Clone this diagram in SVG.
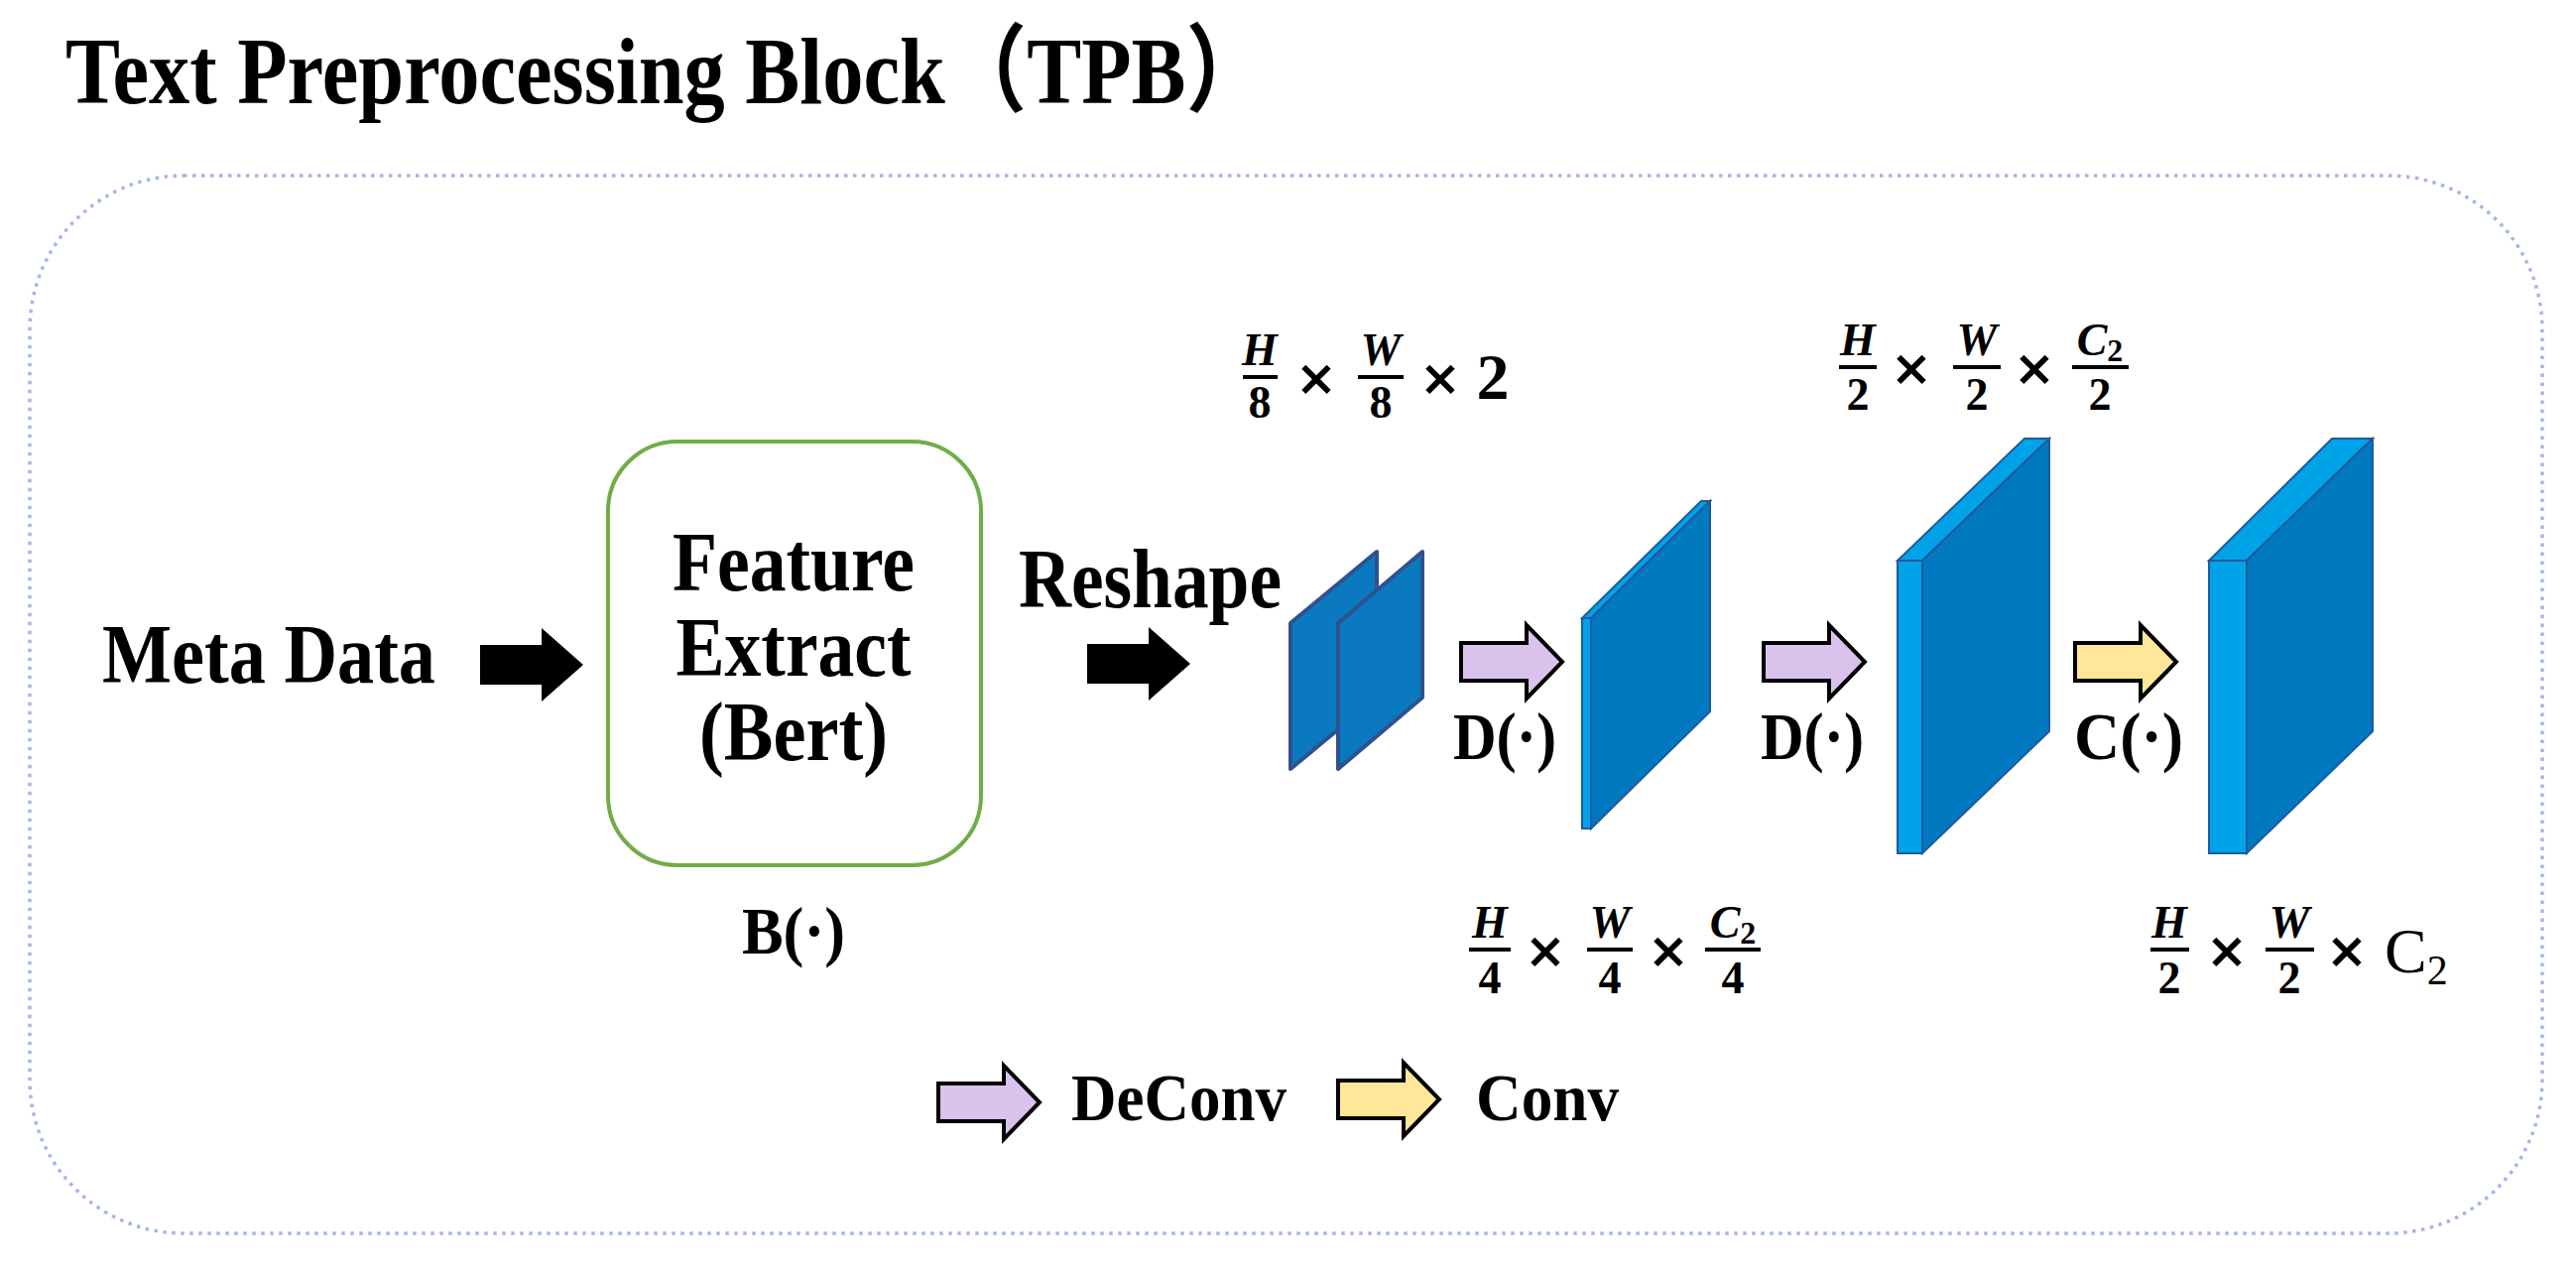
<svg xmlns="http://www.w3.org/2000/svg" xmlns:xlink="http://www.w3.org/1999/xlink" width="2597" height="1286" viewBox="0 0 2597 1286">
<style>
.t{font-family:"Liberation Serif","Noto Sans CJK SC",serif;font-weight:bold;fill:#000}
.big{font-size:84px}
.op{font-size:68px}
.m{font-family:"Liberation Serif",serif;font-weight:bold;font-size:46px;fill:#000;text-anchor:middle}
.mi{font-style:italic}
.x{font-family:"DejaVu Sans",sans-serif;font-weight:bold;font-size:50px;fill:#000;text-anchor:middle}
.bar{stroke:#000;stroke-width:4}
.face{fill:#0079c1;stroke:#1f5a9c;stroke-width:2}
.side{fill:#00a2e8;stroke:#1f5a9c;stroke-width:2}
.small{fill:#0a79bf;stroke:#2f528f;stroke-width:4;stroke-linejoin:round}
.blk{fill:#000}
.dec{fill:#d9c3ec;stroke:#000;stroke-width:4}
.cnv{fill:#ffe699;stroke:#000;stroke-width:4}
</style>
<defs>
<path id="blkArrow" d="M0,-20 H62 V-37 L104,0 L62,37 V20 H0 Z"/>
<path id="fatArrow" d="M0,-19 H66 V-37 L102,0 L66,37 V19 H0 Z"/>
</defs>
<rect width="2597" height="1286" fill="#fff"/>
<text class="t" x="66" y="104" font-size="96" textLength="1212" lengthAdjust="spacingAndGlyphs">Text Preprocessing Block（TPB）</text>
<rect id="frame" x="30" y="177" width="2533" height="1066" rx="155" ry="155" fill="none" stroke="#a3b7e8" stroke-width="3.5" stroke-dasharray="3.5 5.5"/>

<g id="meta">
<text class="t big" x="103" y="688" textLength="336" lengthAdjust="spacingAndGlyphs">Meta Data</text>
</g>

<g id="bert">
<rect x="613" y="445" width="376" height="427" rx="70" ry="70" fill="none" stroke="#70ad47" stroke-width="4"/>
<text class="t big" x="800" y="595" text-anchor="middle" textLength="244" lengthAdjust="spacingAndGlyphs">Feature</text>
<text class="t big" x="800" y="681" text-anchor="middle" textLength="237" lengthAdjust="spacingAndGlyphs">Extract</text>
<text class="t big" x="800" y="766" text-anchor="middle" textLength="190" lengthAdjust="spacingAndGlyphs">(Bert)</text>
<text class="t op" x="800" y="961" text-anchor="middle" textLength="104" lengthAdjust="spacingAndGlyphs">B(·)</text>
</g>

<g id="reshape">
<text class="t big" x="1027" y="612" textLength="265" lengthAdjust="spacingAndGlyphs">Reshape</text>
</g>

<g id="planes8">
<polygon class="small" points="1301,628 1388,556 1388,703 1301,775"/>
<polygon class="small" points="1349,628 1434,556 1434,703 1349,775"/>
<text class="m mi" x="1270" y="368">H</text>
<line class="bar" x1="1253" y1="380" x2="1288" y2="380"/>
<text class="m" x="1270" y="421">8</text>
<text class="x" x="1327" y="398">×</text>
<text class="m mi" x="1392" y="368">W</text>
<line class="bar" x1="1369" y1="380" x2="1415" y2="380"/>
<text class="m" x="1392" y="421">8</text>
<text class="x" x="1452" y="398">×</text>
<text class="m" x="1505" y="402" style="font-size:66px">2</text>
</g>

<g id="plane4">
<polygon class="side" points="1595,623 1715,505 1724,505 1604,623"/>
<polygon class="side" points="1595,623 1604,623 1604,835 1595,835"/>
<polygon class="face" points="1604,623 1724,505 1724,717 1604,835"/>
<text class="m mi" x="1502" y="945">H</text>
<line class="bar" x1="1481" y1="957" x2="1523" y2="957"/>
<text class="m" x="1502" y="1001">4</text>
<text class="x" x="1558" y="975">×</text>
<text class="m mi" x="1623" y="945">W</text>
<line class="bar" x1="1600" y1="957" x2="1646" y2="957"/>
<text class="m" x="1623" y="1001">4</text>
<text class="x" x="1682" y="975">×</text>
<text class="m" x="1747" y="945"><tspan class="mi">C</tspan><tspan style="font-size:32px" dy="6">2</tspan></text>
<line class="bar" x1="1719" y1="957" x2="1775" y2="957"/>
<text class="m" x="1747" y="1001">4</text>
</g>

<g id="plane2a">
<polygon class="side" points="1913,565 2041,442 2066,442 1938,565"/>
<polygon class="side" points="1913,565 1938,565 1938,860 1913,860"/>
<polygon class="face" points="1938,565 2066,442 2066,737 1938,860"/>
<text class="m mi" x="1873" y="358">H</text>
<line class="bar" x1="1854" y1="370" x2="1892" y2="370"/>
<text class="m" x="1873" y="413">2</text>
<text class="x" x="1927" y="388">×</text>
<text class="m mi" x="1993" y="358">W</text>
<line class="bar" x1="1969" y1="370" x2="2017" y2="370"/>
<text class="m" x="1993" y="413">2</text>
<text class="x" x="2051" y="388">×</text>
<text class="m" x="2117" y="358"><tspan class="mi">C</tspan><tspan style="font-size:32px" dy="6">2</tspan></text>
<line class="bar" x1="2089" y1="370" x2="2146" y2="370"/>
<text class="m" x="2117" y="413">2</text>
</g>

<g id="plane2b">
<polygon class="side" points="2227,565 2351,442 2392,442 2265,565"/>
<polygon class="side" points="2227,565 2265,565 2265,860 2227,860"/>
<polygon class="face" points="2265,565 2392,442 2392,737 2265,860"/>
<text class="m mi" x="2187" y="945">H</text>
<line class="bar" x1="2168" y1="957" x2="2207" y2="957"/>
<text class="m" x="2187" y="1001">2</text>
<text class="x" x="2245" y="975">×</text>
<text class="m mi" x="2308" y="945">W</text>
<line class="bar" x1="2284" y1="957" x2="2333" y2="957"/>
<text class="m" x="2308" y="1001">2</text>
<text class="x" x="2366" y="975">×</text>
<text class="m" x="2404" y="980" style="font-size:64px;font-weight:normal;text-anchor:start">C<tspan style="font-size:42px" dy="12">2</tspan></text>
</g>

<g id="connectors">
<use xlink:href="#blkArrow" class="blk" transform="translate(484,670)"/>
<use xlink:href="#blkArrow" class="blk" transform="translate(1096,669)"/>
<use xlink:href="#fatArrow" class="dec" transform="translate(1473,667)"/>
<text class="t op" x="1465" y="765" textLength="104" lengthAdjust="spacingAndGlyphs">D(·)</text>
<use xlink:href="#fatArrow" class="dec" transform="translate(1778,667)"/>
<text class="t op" x="1775" y="765" textLength="104" lengthAdjust="spacingAndGlyphs">D(·)</text>
<use xlink:href="#fatArrow" class="cnv" transform="translate(2092,667)"/>
<text class="t op" x="2091" y="765" textLength="110" lengthAdjust="spacingAndGlyphs">C(·)</text>
</g>

<g id="legend">
<use xlink:href="#fatArrow" class="dec" transform="translate(946,1111)"/>
<text class="t" x="1080" y="1129" font-size="68" textLength="217" lengthAdjust="spacingAndGlyphs">DeConv</text>
<use xlink:href="#fatArrow" class="cnv" transform="translate(1349,1108)"/>
<text class="t" x="1488" y="1129" font-size="68" textLength="144" lengthAdjust="spacingAndGlyphs">Conv</text>
</g>
</svg>
